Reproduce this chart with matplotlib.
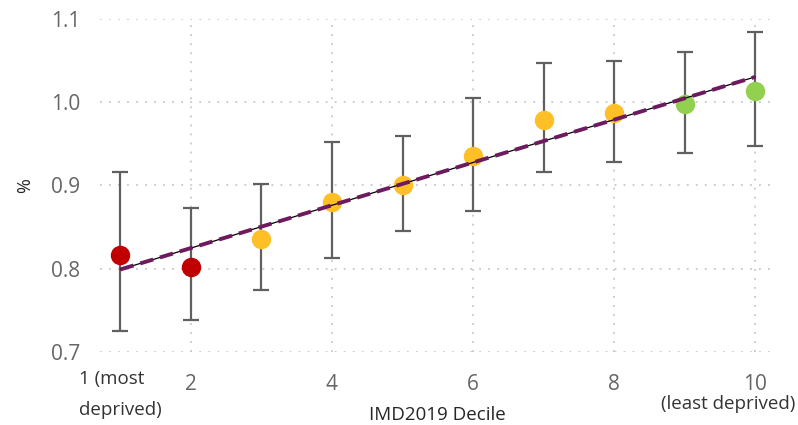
import numpy as np
import matplotlib.pyplot as plt

deciles = [1, 2, 3, 4, 5, 6, 7, 8, 9, 10]
values = [0.816, 0.802, 0.836, 0.880, 0.901, 0.935, 0.979, 0.987, 0.998, 1.014]
upper = [0.916, 0.873, 0.902, 0.952, 0.959, 1.005, 1.047, 1.050, 1.060, 1.084]
lower = [0.725, 0.738, 0.775, 0.813, 0.845, 0.869, 0.916, 0.928, 0.939, 0.947]
colours = ['#C00000', '#C00000', '#FFBF27', '#FFBF27', '#FFBF27',
           '#FFBF27', '#FFBF27', '#FFBF27', '#92D050', '#92D050']
xticks = [2, 4, 6, 8, 10]
yticks = [0.7, 0.8, 0.9, 1.0, 1.1]

plt.rcParams['font.family'] = ['Open Sans', 'DejaVu Sans']

fig = plt.figure(figsize=(7.98, 4.25), dpi=100)
ax = fig.add_axes([0.1253, 0.1718, 0.8457, 0.7835])

x = np.array(deciles)
y = np.array(values)
yerr = [y - np.array(lower), np.array(upper) - y]

ax.errorbar(x, y, yerr=yerr, fmt='none', ecolor='#606060', elinewidth=1.6,
            capsize=6, capthick=1.6, zorder=3)
for xi, yi, c in zip(x, y, colours):
    ax.plot(xi, yi, 'o', color=c, markersize=13, zorder=4, clip_on=False)

# linear trend
slope, icpt = np.polyfit(x, y, 1)
tx = np.array([x.min(), x.max()])
ax.plot(tx, slope * tx + icpt, color='black', lw=0.9, zorder=5)
ax.plot(tx, slope * tx + icpt, color='#6E1A5E', lw=2.8, ls=(0, (3.5, 1.8)), zorder=5)

ax.set_xlim(0.71, 10.28)
ax.set_ylim(0.7, 1.1)
ax.set_xticks(xticks)
ax.set_yticks(yticks)
ax.set_yticklabels(['%.1f' % t for t in yticks])
ax.tick_params(length=0, labelsize=15, labelcolor='#666666')
ax.tick_params(axis='x', pad=16)
ax.tick_params(axis='y', pad=14)
ax.grid(True, color='#C8C8C8', ls=(0, (1, 4)), lw=1.3)
ax.set_axisbelow(True)
for s in ax.spines.values():
    s.set_visible(False)

ax.text(1, -0.055, '1 (most\ndeprived)', transform=ax.get_xaxis_transform(),
        ha='center', va='top', multialignment='left', fontsize=13.5,
        color='#333333', linespacing=1.9)
ax.text(10.57, -0.128, '(least deprived)', transform=ax.get_xaxis_transform(),
        ha='right', va='top', fontsize=13.5, color='#333333')

ax.set_xlabel('IMD2019 Decile', fontsize=13.5, color='#252525', labelpad=8)
ax.set_ylabel('%', fontsize=13, color='#252525', labelpad=12)

fig.savefig('out.png', dpi=100)
